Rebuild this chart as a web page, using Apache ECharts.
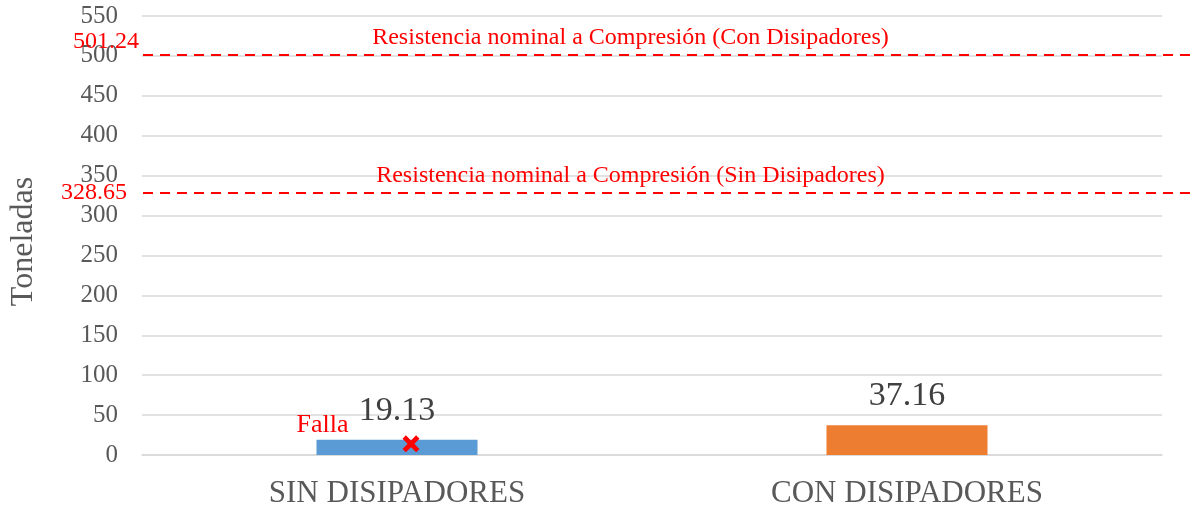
<!DOCTYPE html>
<html>
<head>
<meta charset="utf-8">
<script src="https://cdn.jsdelivr.net/npm/echarts@6/dist/echarts.min.js"></script>
<style>
  html, body { margin: 0; padding: 0; background: #fff; }
  #chart { width: 1192px; height: 510px; }
</style>
</head>
<body>
<div id="chart"></div>
<script>
// categorias y valores
const categories = ['SIN DISIPADORES', 'CON DISIPADORES']
const cargas = [19.13, 37.16]
const barColors = ['#5B9BD5', '#ED7D31']
// resistencias nominales
const resistencias = [501.24, 328.65]
const resistenciaTextos = [
  'Resistencia nominal a Compresión (Con Disipadores)',
  'Resistencia nominal a Compresión (Sin Disipadores)'
]
// punto de falla (sobre la barra SIN DISIPADORES)
const falla = [14, null]

const fontFam = '"Liberation Serif", "Times New Roman", serif'
const red = '#FF0000'

let myChart = echarts.init(document.getElementById('chart'))

// lineas de resistencia: linea + etiqueta central, y etiqueta del valor a la izquierda
let lineData = []
resistencias.forEach((v, i) => {
  lineData.push([
    { yAxis: v, x: 143, label: { show: true, position: 'middle', formatter: resistenciaTextos[i], padding: [0, 74, 0, 0] } },
    { yAxis: v, x: 1192 }
  ])
  lineData.push([
    {
      yAxis: v, x: 143,
      lineStyle: { color: 'rgba(0,0,0,0)' },
      label: {
        show: true, position: 'start',
        // el valor de 501.24 va encima de la linea
        formatter: i === 0 ? String(v) + '\n ' : String(v),
        lineHeight: 26,
        color: red,
        distance: i === 0 ? 4 : 16
      }
    },
    { yAxis: v, x: 1192 }
  ])
})

let option = {
  animation: false,
  textStyle: { fontFamily: fontFam },
  grid: { left: 140, right: 30, top: 16, bottom: 55 },
  xAxis: {
    type: 'category',
    data: categories,
    axisLine: { lineStyle: { color: '#D9D9D9', width: 1.5 } },
    axisTick: { show: false },
    axisLabel: { color: '#595959', fontSize: 31, margin: 23, fontFamily: fontFam }
  },
  yAxis: {
    type: 'value',
    min: 0,
    max: 550,
    interval: 50,
    name: 'Toneladas',
    nameLocation: 'middle',
    nameGap: 102,
    nameTextStyle: { color: '#595959', fontSize: 32, fontFamily: fontFam, padding: [0, 12, 0, 0] },
    axisLine: { show: false },
    axisTick: { show: false },
    axisLabel: { color: '#595959', fontSize: 25, margin: 24, fontFamily: fontFam },
    splitLine: { lineStyle: { color: '#D9D9D9', width: 1.5 } }
  },
  series: [
    {
      type: 'bar',
      barWidth: 161,
      data: cargas.map((v, i) => ({ value: v, itemStyle: { color: barColors[i] } })),
      label: {
        show: true,
        position: 'top',
        distance: 12,
        color: '#404040',
        fontSize: 34,
        fontFamily: fontFam
      },
      markLine: {
        silent: true,
        symbol: 'none',
        lineStyle: { color: red, type: [10, 7], width: 2 },
        label: { color: red, fontSize: 24, fontFamily: fontFam },
        data: lineData
      }
    },
    {
      type: 'scatter',
      data: falla,
      symbol: 'path://M2,0 L5,3 L8,0 L10,2 L7,5 L10,8 L8,10 L5,7 L2,10 L0,8 L3,5 L0,2 Z',
      symbolSize: 17,
      symbolOffset: [14, 0],
      itemStyle: { color: red, opacity: 1 },
      emphasis: { disabled: true },
      label: {
        show: true,
        formatter: 'Falla',
        position: [-80, -10],
        align: 'center',
        verticalAlign: 'middle',
        color: red,
        fontSize: 26,
        fontFamily: fontFam
      },
      z: 5
    }
  ]
}

myChart.setOption(option)
window.addEventListener('resize', () => { myChart.resize() })
</script>
</body>
</html>
